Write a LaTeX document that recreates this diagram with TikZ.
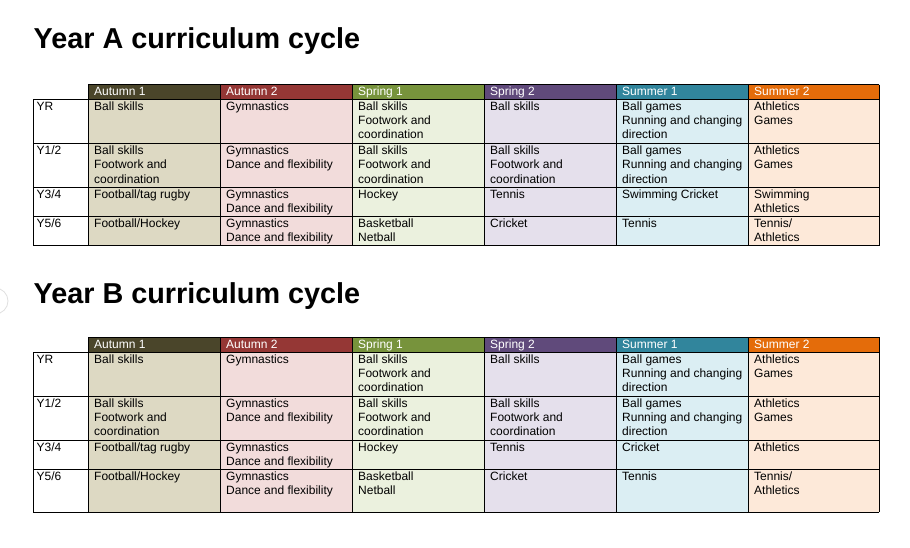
\documentclass[tikz,border=0pt]{standalone}
\usepackage{fontspec}
\setmainfont{Liberation Sans}
\definecolor{hA}{HTML}{4A452A}
\definecolor{hB}{HTML}{953735}
\definecolor{hC}{HTML}{77933C}
\definecolor{hD}{HTML}{604A7B}
\definecolor{hE}{HTML}{31859C}
\definecolor{hF}{HTML}{E46C0A}
\definecolor{bA}{HTML}{DDD9C3}
\definecolor{bB}{HTML}{F2DCDB}
\definecolor{bC}{HTML}{EBF1DE}
\definecolor{bD}{HTML}{E5E0EC}
\definecolor{bE}{HTML}{DBEEF3}
\definecolor{bF}{HTML}{FDE9D9}
% #1 name prefix, #2 x of text, #3 row top, #4 comma separated lines
\newcommand\ctext[4]{%
  \foreach \ln [count=\k] in {#4} {\node[celltext] (#1-\k) at (#2, #3+11+14.4*\k-14.4) {\ln};}}
% #1 prefix, #2 header top, #3-#6 row tops, #7 bottom, #8 Summer1 Y3/4, #9 Summer2 Y3/4
\newcommand\drawtable[9]{%
  \foreach \xa/\xb/\hc/\bc/\lab [count=\i] in
    {88/220/hA/bA/Autumn 1, 220/352/hB/bB/Autumn 2, 352/484/hC/bC/Spring 1,
     484/616/hD/bD/Spring 2, 616/748/hE/bE/Summer 1, 748/879/hF/bF/Summer 2} {
    \fill[\hc] (\xa,#2) rectangle (\xb,#3);
    \fill[\bc] (\xa,#3) rectangle (\xb,#7);
    \node[headtext] (#1-h\i) at (\xa+6, #2+11) {\lab};
  }
  \foreach \yy in {#3,#4,#5,#6,#7} \draw[gridline] (33,\yy) -- (879,\yy);
  \draw[gridline] (88,#2) -- (879,#2);
  \draw[gridline] (33,#3) -- (33,#7);
  \foreach \xx in {88,220,352,484,616,748,879} \draw[gridline] (\xx,#2) -- (\xx,#7);
  % row labels
  \ctext{#1-l1}{36.5}{#3}{YR}
  \ctext{#1-l2}{36.5}{#4}{Y1/2}
  \ctext{#1-l3}{36.5}{#5}{Y3/4}
  \ctext{#1-l4}{36.5}{#6}{Y5/6}
  % YR
  \ctext{#1-a1}{94}{#3}{Ball skills}
  \ctext{#1-b1}{226}{#3}{Gymnastics}
  \ctext{#1-c1}{358}{#3}{Ball skills,Footwork and,coordination}
  \ctext{#1-d1}{490}{#3}{Ball skills}
  \ctext{#1-e1}{622}{#3}{Ball games,Running and changing,direction}
  \ctext{#1-f1}{754}{#3}{Athletics,Games}
  % Y1/2
  \ctext{#1-a2}{94}{#4}{Ball skills,Footwork and,coordination}
  \ctext{#1-b2}{226}{#4}{Gymnastics,Dance and flexibility}
  \ctext{#1-c2}{358}{#4}{Ball skills,Footwork and,coordination}
  \ctext{#1-d2}{490}{#4}{Ball skills,Footwork and,coordination}
  \ctext{#1-e2}{622}{#4}{Ball games,Running and changing,direction}
  \ctext{#1-f2}{754}{#4}{Athletics,Games}
  % Y3/4
  \ctext{#1-a3}{94}{#5}{Football/tag rugby}
  \ctext{#1-b3}{226}{#5}{Gymnastics,Dance and flexibility}
  \ctext{#1-c3}{358}{#5}{Hockey}
  \ctext{#1-d3}{490}{#5}{Tennis}
  \ctext{#1-e3}{622}{#5}{#8}
  \ctext{#1-f3}{754}{#5}{#9}
  % Y5/6
  \ctext{#1-a4}{94}{#6}{Football/Hockey}
  \ctext{#1-b4}{226}{#6}{Gymnastics,Dance and flexibility}
  \ctext{#1-c4}{358}{#6}{Basketball,Netball}
  \ctext{#1-d4}{490}{#6}{Cricket}
  \ctext{#1-e4}{622}{#6}{Tennis}
  \ctext{#1-f4}{754}{#6}{Tennis/,Athletics}
}
\begin{document}
\begin{tikzpicture}[x=1pt,y=-1pt,
  celltext/.style={anchor=base west, inner sep=0pt, font=\fontsize{12}{14.4}\selectfont},
  headtext/.style={celltext, text=white},
  titletext/.style={anchor=base west, inner sep=0pt, font=\fontsize{28.8}{34}\selectfont\bfseries},
  gridline/.style={draw=black, line width=0.9pt}]
\fill[white] (0,0) rectangle (910,547);
\useasboundingbox (0,0) rectangle (910,547);
\begin{scope}
\clip (0,0) rectangle (910,547);
\draw[black!12, line width=0.8pt] (-5,301) circle[radius=13];
\end{scope}
\node[titletext] (titleA) at (33.5,48.3) {Year A curriculum cycle};
\node[titletext] (titleB) at (33.5,303.3) {Year B curriculum cycle};
\drawtable{A}{84.5}{99}{143.3}{187.3}{216.5}{245.7}{Swimming Cricket}{Swimming,Athletics}
\drawtable{B}{337.3}{352}{396}{440}{469.3}{512.3}{Cricket}{Athletics}
\end{tikzpicture}
\end{document}
